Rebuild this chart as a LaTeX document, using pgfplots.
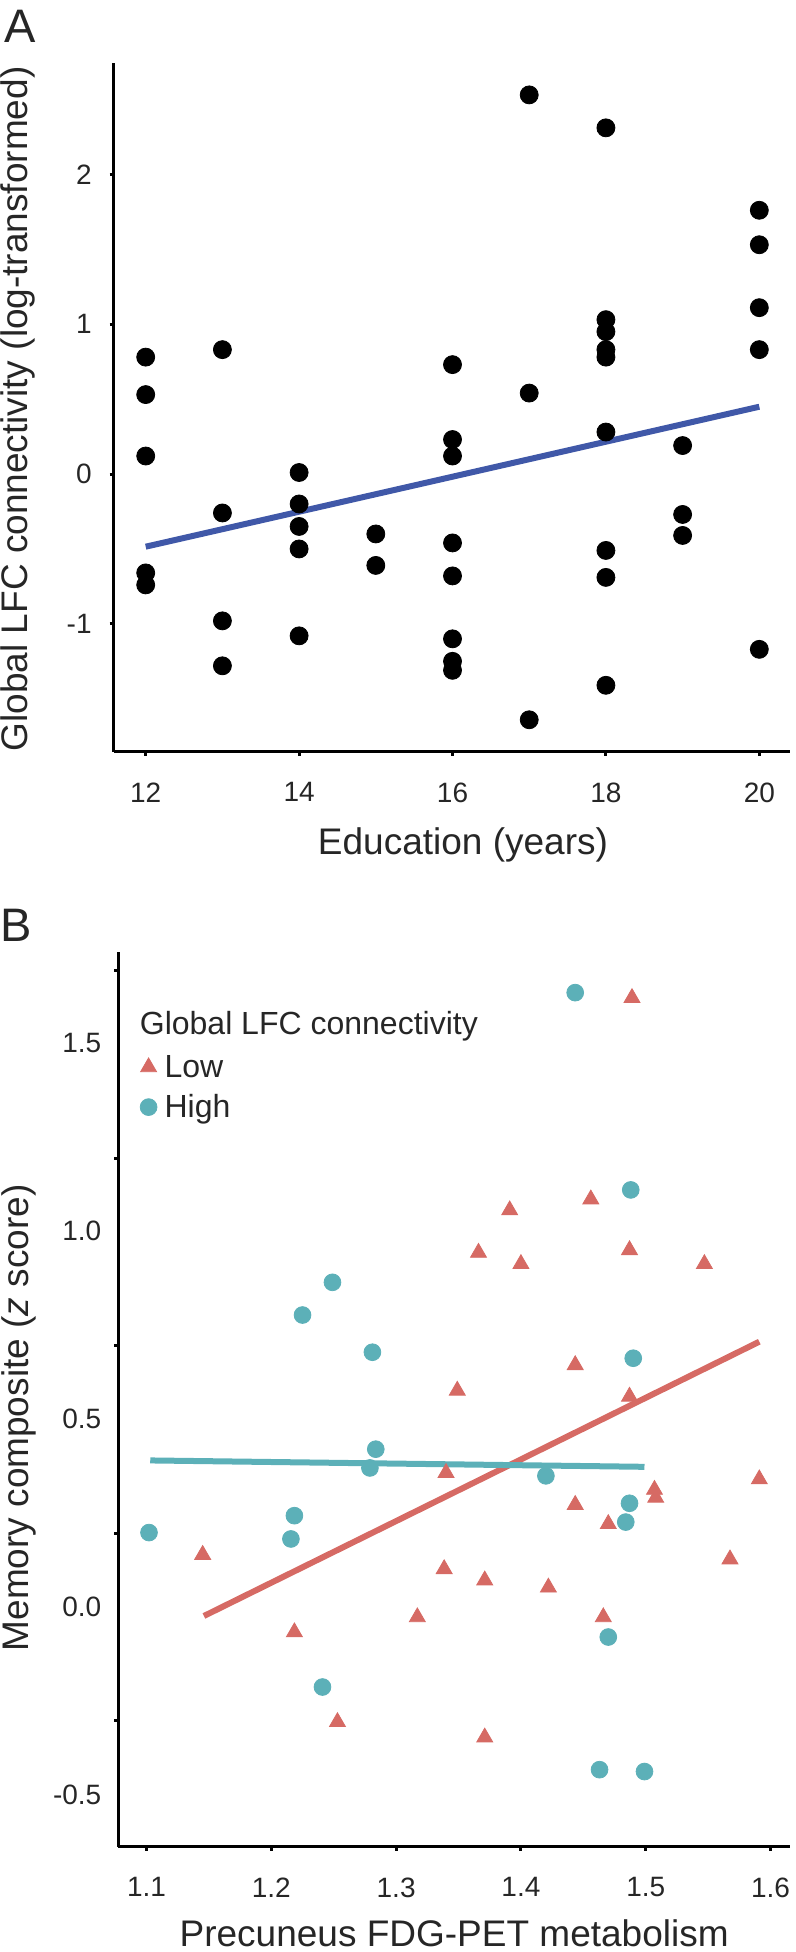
\documentclass[border=0pt]{standalone}
\usepackage{pgfplots}
\pgfplotsset{compat=1.18}
\usepackage{fontspec}
\setmainfont{Liberation Sans}
\definecolor{redc}{RGB}{214,106,100}
\definecolor{tealc}{RGB}{92,176,184}
\definecolor{bluec}{RGB}{64,88,168}
\definecolor{txt}{RGB}{38,38,38}
\begin{document}
\begin{tikzpicture}
\useasboundingbox (0,0) rectangle (398pt,976pt);
% ---------------- Panel A ----------------
\begin{axis}[
 at={(56.75pt,600.15pt)}, anchor=south west,
 scale only axis, width=338.25pt, height=344.2pt,
 xmin=11.58, xmax=20.40, ymin=-1.853, ymax=2.741,
 axis lines=left, axis line style={-, line width=1.5pt, black},
 tick align=outside, major tick length=2pt, tick style={line width=1.5pt, black},
 xtick={12,14,16,18,20}, xticklabels={12,14,16,18,20},
 ytick={-1,0,1,2}, yticklabels={-1,0,1,2},
 tick label style={font=\fontsize{14}{16}\selectfont, text=txt, inner sep=0pt},
 xticklabel style={anchor=north, yshift=-13.3pt},
 yticklabel style={anchor=east, xshift=-8.75pt},
 xlabel={Education (years)}, ylabel={Global LFC connectivity (log-transformed)},
 every axis x label/.style={at={(rel axis cs:0.5166,0)}, anchor=base, yshift=-51.65pt,
   font=\fontsize{18.5}{22}\selectfont, text=txt},
 every axis y label/.style={at={(rel axis cs:0,0.498)}, xshift=-42.75pt, rotate=90, anchor=base,
   font=\fontsize{18.5}{22}\selectfont, text=txt},
 clip=false,
]
\addplot[only marks, mark=*, mark size=4.5pt, black] coordinates {
(12,0.78)(12,0.53)(12,0.12)(12,-0.66)(12,-0.74)
(13,0.83)(13,-0.26)(13,-0.98)(13,-1.28)
(14,0.01)(14,-0.20)(14,-0.35)(14,-0.50)(14,-1.08)
(15,-0.40)(15,-0.61)
(16,0.73)(16,0.23)(16,0.12)(16,-0.46)(16,-0.68)(16,-1.10)(16,-1.25)(16,-1.31)
(17,2.53)(17,0.54)(17,-1.64)
(18,2.31)(18,1.03)(18,0.95)(18,0.83)(18,0.78)(18,0.28)(18,-0.51)(18,-0.69)(18,-1.41)
(19,0.19)(19,-0.27)(19,-0.41)
(20,1.76)(20,1.53)(20,1.11)(20,0.83)(20,-1.17)
};
\addplot[bluec, line width=3pt, no marks] coordinates {(12,-0.485) (20,0.449)};
\end{axis}
\node[anchor=north west, inner sep=0pt, font=\fontsize{23.5}{26}\selectfont, text=txt] at (2pt,971pt) {A};
% ---------------- Panel B ----------------
\begin{axis}[
 at={(59.15pt,52.65pt)}, anchor=south west,
 scale only axis, width=335.85pt, height=447.5pt,
 xmin=1.0774, xmax=1.6156, ymin=-0.639, ymax=1.743,
 axis lines=left, axis line style={-, line width=1.5pt, black},
 tick align=outside, major tick length=2pt, tick style={line width=1.5pt, black},
 xtick={1.1,1.2,1.3,1.4,1.5,1.6}, xticklabels={1.1,1.2,1.3,1.4,1.5,1.6},
 ytick={-0.304,0.195,0.696,1.193,1.694}, yticklabels={},
 extra y ticks={-0.5,0,0.5,1,1.5}, extra y tick labels={-0.5,0.0,0.5,1.0,1.5},
 extra y tick style={major tick length=0pt, tick style={draw=none}},
 tick label style={font=\fontsize{14}{16}\selectfont, text=txt, inner sep=0pt},
 xticklabel style={anchor=north, yshift=-13.3pt},
 yticklabel style={anchor=east, xshift=-8.3pt},
 xlabel={Precuneus FDG-PET metabolism}, ylabel={Memory composite (\textit{z} score)},
 every axis x label/.style={at={(rel axis cs:0.5,0)}, anchor=base, yshift=-49.9pt,
   font=\fontsize{18.5}{22}\selectfont, text=txt},
 every axis y label/.style={at={(rel axis cs:0,0.479)}, xshift=-45.15pt, rotate=90, anchor=base,
   font=\fontsize{18.5}{22}\selectfont, text=txt},
 clip=false,
 legend style={at={(0.032,0.886)}, anchor=north west, draw=none, fill=none, inner sep=0pt,
   font=\fontsize{16}{19}\selectfont, text=txt, row sep=5pt,
   nodes={inner sep=0pt, text height=11.6pt, text depth=3.4pt},
   /tikz/every odd column/.append style={column sep=3.8pt}},
 legend cell align=left,
 legend image code/.code={\draw[#1] plot coordinates {(0pt,1pt)};},
]
\addplot[only marks, mark=triangle*, mark size=4.6pt, draw=redc, fill=redc] coordinates {
(1.489,1.620)(1.456,1.084)(1.391,1.055)(1.366,0.942)(1.487,0.949)(1.400,0.912)(1.547,0.912)
(1.4435,0.643)(1.349,0.575)(1.487,0.559)(1.340,0.356)(1.507,0.311)(1.508,0.290)(1.591,0.339)
(1.4435,0.271)(1.470,0.220)(1.145,0.138)(1.5675,0.126)(1.3385,0.100)(1.371,0.070)(1.422,0.051)
(1.317,-0.028)(1.466,-0.028)(1.2185,-0.068)(1.253,-0.307)(1.371,-0.348)
};
\addlegendentry{Low}
\addplot[only marks, mark=*, mark size=4.2pt, draw=tealc, fill=tealc] coordinates {
(1.4435,1.634)(1.488,1.109)(1.249,0.863)(1.225,0.776)(1.281,0.677)(1.490,0.661)(1.2837,0.419)
(1.279,0.369)(1.420,0.348)(1.487,0.275)(1.484,0.225)(1.102,0.197)(1.2185,0.242)(1.2157,0.180)
(1.470,-0.081)(1.241,-0.214)(1.463,-0.434)(1.499,-0.439)
};
\addlegendentry{High}
\addplot[redc, line width=3pt, no marks, forget plot] coordinates {(1.146,-0.025) (1.591,0.705)};
\addplot[tealc, line width=3pt, no marks, forget plot] coordinates {(1.103,0.389) (1.499,0.372)};
\end{axis}
\node[anchor=base west, inner sep=0pt, font=\fontsize{16}{19}\selectfont, text=txt] at (69.75pt,458.5pt) {Global LFC connectivity};
\node[anchor=north west, inner sep=0pt, font=\fontsize{23.5}{26}\selectfont, text=txt] at (0pt,521.5pt) {B};
\end{tikzpicture}
\end{document}
